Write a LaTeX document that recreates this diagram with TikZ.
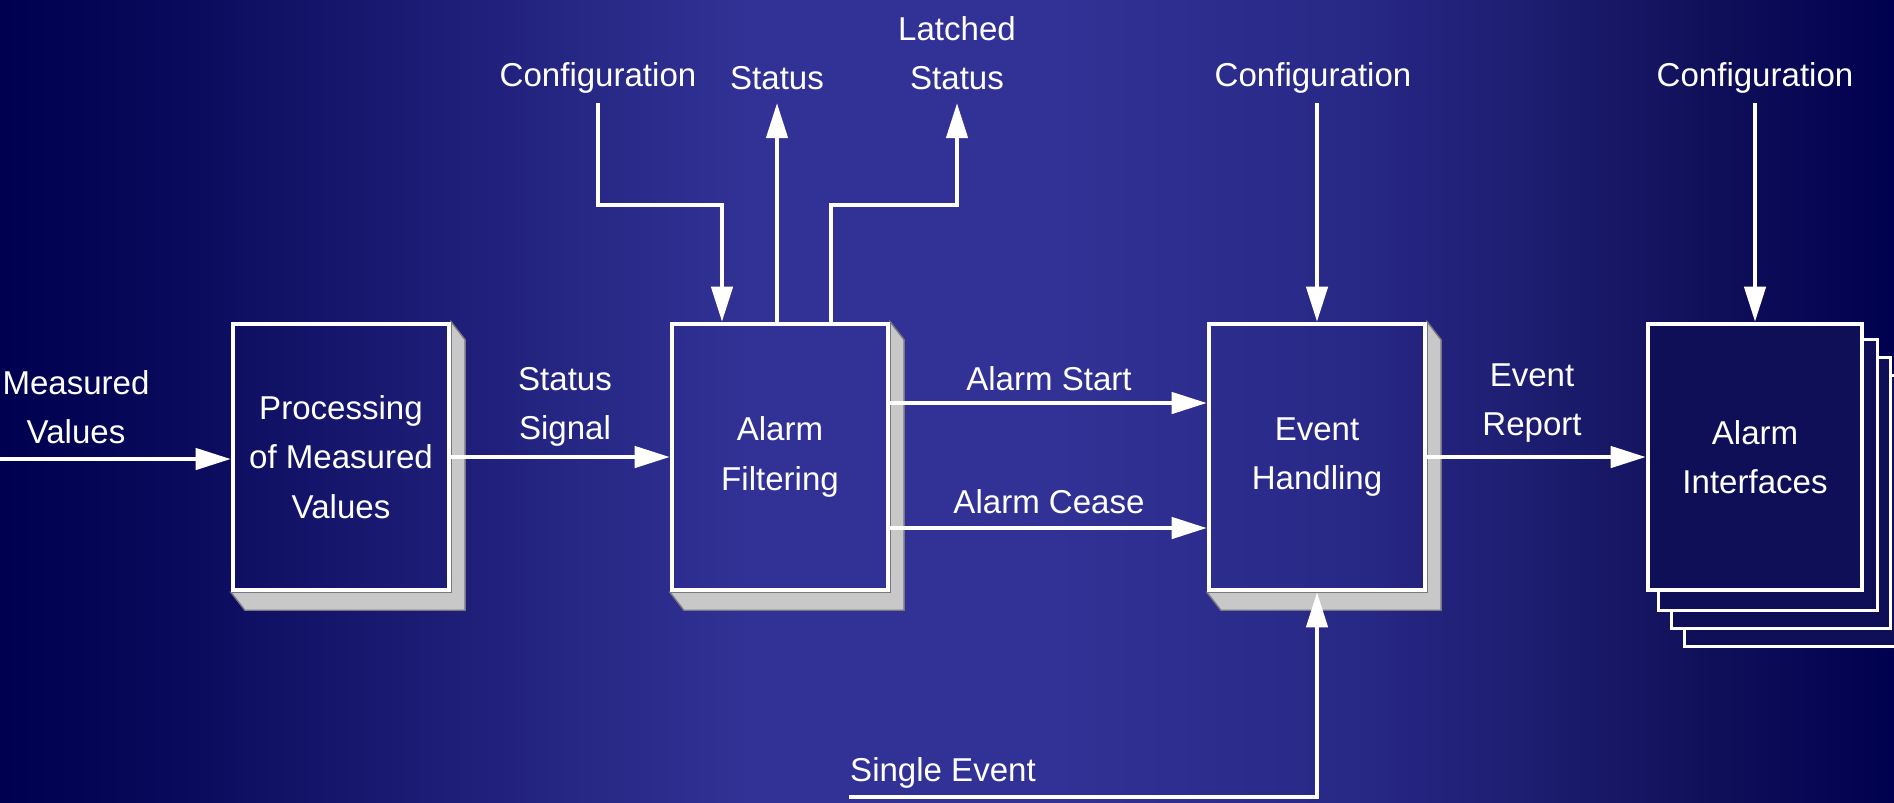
\documentclass[tikz,border=0pt]{standalone}
\usepackage{fontspec}
\setmainfont{Liberation Sans}
\usetikzlibrary{arrows.meta,calc,backgrounds}
\definecolor{g0}{RGB}{0,0,80}
\definecolor{g1}{RGB}{10,10,92}
\definecolor{g2}{RGB}{30,30,120}
\definecolor{g3}{RGB}{50,50,150}
\definecolor{g4}{RGB}{50,50,150}
\definecolor{g5}{RGB}{40,40,135}
\definecolor{g6}{RGB}{28,28,110}
\definecolor{g7}{RGB}{16,16,90}
\definecolor{g8}{RGB}{0,0,80}
\definecolor{shgray}{RGB}{200,200,200}
\definecolor{shedge}{RGB}{120,120,130}
\definecolor{aifill}{RGB}{15,15,88}
\newcommand\boxshadow[1]{%
  \filldraw[shadowc] (#1.north east) -- ++(14,18) -- ($(#1.south east)+(14,18)$)
    -- ($(#1.south west)+(14,18)$) -- (#1.south west) -- (#1.south east) -- cycle;}
\begin{document}
\begin{tikzpicture}[x=0.01cm,y=-0.01cm,
  font=\fontsize{9.4pt}{14pt}\selectfont,
  box/.style={draw=white, line width=1.2pt, minimum width=2.16cm, minimum height=2.66cm,
    align=center, text=white, inner sep=0pt},
  lbl/.style={text=white, align=center, inner sep=0pt},
  arr/.style={draw=white, line width=1.2pt, -{Triangle[length=10pt,width=6pt]}},
  ln/.style={draw=white, line width=1.2pt},
  shadowc/.style={fill=shgray, draw=shedge, line width=0.4pt},
  sheet/.style={draw=white, line width=0.9pt, fill=aifill}]
\useasboundingbox (0,0) rectangle (1894,802);
\clip (0,0) rectangle (1894,802);

% boxes
\node[box] (proc) at (341,457) {Processing\\of Measured\\Values};
\node[box] (filt) at (780,457) {Alarm\\Filtering};
\node[box] (evt) at (1317,457) {Event\\Handling};
\node[box, fill=aifill, minimum width=2.14cm] (ai) at (1755,457) {Alarm\\Interfaces};

% labels
\node[lbl] (mv) at (76,407) {Measured\\Values};
\node[lbl] (ss) at (565,407) {Status\\Signal};
\node[lbl] (cfgA) at (598,78) {Configuration};
\node[lbl] (stat) at (777,78) {Status};
\node[lbl] (lat) at (957,53) {Latched\\Status};
\node[lbl] (cfgB) at (1313,78) {Configuration};
\node[lbl] (cfgC) at (1755,78) {Configuration};
\node[lbl] (ast) at (1049,379) {Alarm Start};
\node[lbl] (ace) at (1049,502) {Alarm Cease};
\node[lbl] (er) at (1532,403) {Event\\Report};
\node[lbl] (se) at (943,773) {Single Event};

% coordinates for free ends and bends
\coordinate (in0) at (0,459);
\coordinate (c1) at (598,103);
\coordinate (c1t) at (722,205);
\coordinate (s1) at (777,103);
\coordinate (l0) at (831,205);
\coordinate (l1) at (957,205);
\coordinate (l2) at (957,103);
\coordinate (c2) at (1317,103);
\coordinate (c3) at (1755,103);
\coordinate (se0) at (849,797);
\coordinate (se1) at (1317,797);

% connectors
\draw[arr] (in0) -- (in0 -| proc.west);
\draw[arr] (proc.east) -- (filt.west);
\draw[arr] ($(filt.east)+(0,-54)$) -- ($(evt.west)+(0,-54)$);
\draw[arr] ($(filt.east)+(0,71)$) -- ($(evt.west)+(0,71)$);
\draw[arr] (evt.east) -- (ai.west);
\draw[arr] (c1) |- (c1t) -- (c1t |- filt.north);
\draw[arr] (s1 |- filt.north) -- (s1);
\draw[arr] (l0 |- filt.north) -- (l0) -- (l1) -- (l2);
\draw[arr] (c2) -- (evt.north);
\draw[arr] (c3) -- (ai.north);
\draw[arr] (se0) -- (se1) -- (evt.south);

\begin{pgfonlayer}{background}
  \shade[left color=g0, right color=g1] (0,0) rectangle (181,802);
  \shade[left color=g1, right color=g2] (180,0) rectangle (451,802);
  \shade[left color=g2, right color=g3] (450,0) rectangle (751,802);
  \shade[left color=g3, right color=g4] (750,0) rectangle (1051,802);
  \shade[left color=g4, right color=g5] (1050,0) rectangle (1351,802);
  \shade[left color=g5, right color=g6] (1350,0) rectangle (1551,802);
  \shade[left color=g6, right color=g7] (1550,0) rectangle (1701,802);
  \shade[left color=g7, right color=g8] (1700,0) rectangle (1894,802);
  \boxshadow{proc}
  \boxshadow{filt}
  \boxshadow{evt}
  \foreach \k in {3,2,1}{
    \draw[sheet] ($(ai.north west)+(13*\k,18*\k)$) rectangle ($(ai.south east)+(13*\k,18*\k)$);
  }
\end{pgfonlayer}
\end{tikzpicture}
\end{document}
